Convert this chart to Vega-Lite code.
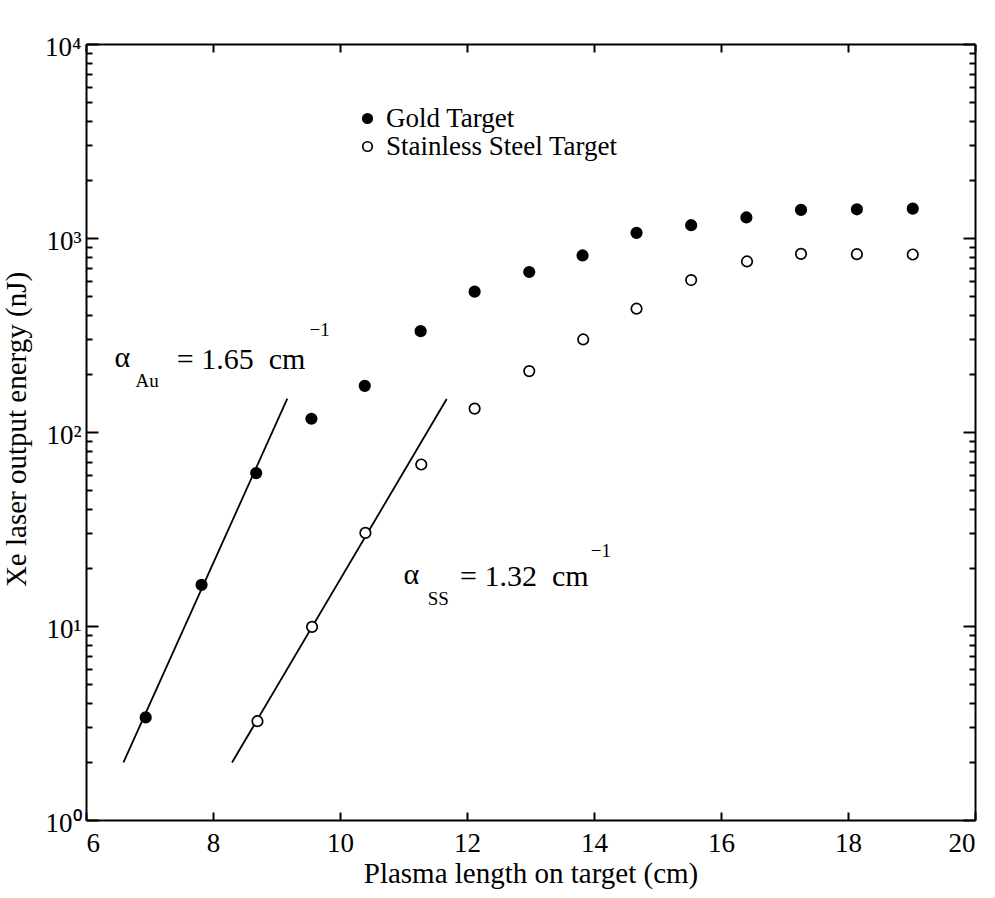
{
  "$schema": "https://vega.github.io/schema/vega-lite/v6.json",
  "width": 889,
  "height": 776,
  "autosize": {"type": "none"},
  "padding": {"left": 86, "top": 44, "right": 20, "bottom": 78},
  "background": "white",
  "datasets": {
    "pts": [
      {"series": "Gold Target", "length": 6.94, "energy": 3.38},
      {"series": "Gold Target", "length": 7.82, "energy": 16.3},
      {"series": "Gold Target", "length": 8.68, "energy": 61.4},
      {"series": "Gold Target", "length": 9.55, "energy": 117},
      {"series": "Gold Target", "length": 10.39, "energy": 173},
      {"series": "Gold Target", "length": 11.27, "energy": 331},
      {"series": "Gold Target", "length": 12.12, "energy": 529},
      {"series": "Gold Target", "length": 12.98, "energy": 668},
      {"series": "Gold Target", "length": 13.82, "energy": 813},
      {"series": "Gold Target", "length": 14.67, "energy": 1063},
      {"series": "Gold Target", "length": 15.53, "energy": 1164},
      {"series": "Gold Target", "length": 16.4, "energy": 1276},
      {"series": "Gold Target", "length": 17.26, "energy": 1396},
      {"series": "Gold Target", "length": 18.14, "energy": 1406},
      {"series": "Gold Target", "length": 19.02, "energy": 1418},
      {"series": "Stainless Steel Target", "length": 8.7, "energy": 3.23},
      {"series": "Stainless Steel Target", "length": 9.56, "energy": 9.9},
      {"series": "Stainless Steel Target", "length": 10.4, "energy": 30.2},
      {"series": "Stainless Steel Target", "length": 11.28, "energy": 68},
      {"series": "Stainless Steel Target", "length": 12.12, "energy": 132},
      {"series": "Stainless Steel Target", "length": 12.98, "energy": 206},
      {"series": "Stainless Steel Target", "length": 13.83, "energy": 300},
      {"series": "Stainless Steel Target", "length": 14.67, "energy": 432},
      {"series": "Stainless Steel Target", "length": 15.53, "energy": 607},
      {"series": "Stainless Steel Target", "length": 16.41, "energy": 757},
      {"series": "Stainless Steel Target", "length": 17.26, "energy": 828},
      {"series": "Stainless Steel Target", "length": 18.14, "energy": 825},
      {"series": "Stainless Steel Target", "length": 19.02, "energy": 822}
    ],
    "fits": [
      {"fit": "Au", "length": 6.59, "energy": 1.98},
      {"fit": "Au", "length": 9.17, "energy": 148.5},
      {"fit": "SS", "length": 8.3, "energy": 1.98},
      {"fit": "SS", "length": 11.68, "energy": 148}
    ],
    "bigText": [
      {"length": 6.45, "energy": 217, "label": "α"},
      {"length": 7.43, "energy": 211, "label": "= 1.65\u00a0\u00a0cm"},
      {"length": 11.0, "energy": 16.4, "label": "α"},
      {"length": 11.89, "energy": 16.1, "label": "= 1.32\u00a0\u00a0cm"}
    ],
    "smallText": [
      {"length": 6.78, "energy": 170, "label": "Au"},
      {"length": 9.52, "energy": 314, "label": "−1"},
      {"length": 11.38, "energy": 12.8, "label": "SS"},
      {"length": 13.95, "energy": 22.8, "label": "−1"}
    ]
  },
  "layer": [
    {
      "data": {"name": "fits"},
      "mark": {"type": "line", "color": "black", "strokeWidth": 1.8},
      "encoding": {
        "x": {
          "field": "length", "type": "quantitative",
          "scale": {"domain": [6, 20], "nice": false, "zero": false},
          "axis": {
            "orient": "bottom",
            "values": [6, 8, 10, 12, 14, 16, 18, 20],
            "tickSize": -8,
            "labelPadding": 18,
            "labelFont": "Liberation Serif",
            "labelFontSize": 27,
            "title": "Plasma length on target (cm)",
            "titleFont": "Liberation Serif",
            "titleFontSize": 29,
            "titleBaseline": "alphabetic",
            "titleY": 62
          }
        },
        "y": {
          "field": "energy", "type": "quantitative",
          "scale": {"type": "log", "domain": [1, 10000], "nice": false},
          "axis": {
            "orient": "left",
            "values": [1,2,3,4,5,6,7,8,9,10,20,30,40,50,60,70,80,90,100,200,300,400,500,600,700,800,900,1000,2000,3000,4000,5000,6000,7000,8000,9000,10000],
            "tickSize": {"condition": {"test": "indexof([1,10,100,1000,10000], datum.value) >= 0", "value": -12}, "value": -6},
            "labelExpr": "indexof([1,10,100,1000,10000], datum.value) >= 0 ? '10' + ['⁰','¹','²','³','⁴'][round(log(datum.value)/LN10)] : ''",
            "labelPadding": 17,
            "labelOffset": 3,
            "labelFont": "Liberation Serif",
            "labelFontSize": 27,
            "title": "Xe laser output energy (nJ)",
            "titleFont": "Liberation Serif",
            "titleFontSize": 29,
            "titleAngle": -90,
            "titleBaseline": "middle",
            "titleX": -70,
            "titleY": 385
          }
        },
        "detail": {"field": "fit"}
      }
    },
    {
      "data": {"name": "pts"},
      "mark": {"type": "point", "shape": "circle", "filled": true, "size": 110, "stroke": "black", "strokeWidth": 1.7, "opacity": 1},
      "encoding": {
        "x": {
          "field": "length", "type": "quantitative",
          "scale": {"domain": [6, 20], "nice": false, "zero": false},
          "axis": {"orient": "top", "values": [6, 8, 10, 12, 14, 16, 18, 20], "tickSize": -8, "labels": false, "title": null}
        },
        "y": {
          "field": "energy", "type": "quantitative",
          "scale": {"type": "log", "domain": [1, 10000], "nice": false},
          "axis": {
            "orient": "right",
            "values": [1,2,3,4,5,6,7,8,9,10,20,30,40,50,60,70,80,90,100,200,300,400,500,600,700,800,900,1000,2000,3000,4000,5000,6000,7000,8000,9000,10000],
            "tickSize": {"condition": {"test": "indexof([1,10,100,1000,10000], datum.value) >= 0", "value": -12}, "value": -6},
            "labels": false,
            "title": null
          }
        },
        "fill": {
          "field": "series", "type": "nominal",
          "scale": {"domain": ["Gold Target", "Stainless Steel Target"], "range": ["black", "white"]},
          "legend": {
            "title": null,
            "orient": "none",
            "legendX": 268,
            "legendY": 61,
            "labelFont": "Liberation Serif",
            "labelFontSize": 27,
            "labelColor": "black",
            "labelLimit": 500,
            "symbolType": "circle",
            "symbolSize": 90,
            "symbolStrokeColor": "black",
            "symbolStrokeWidth": 1.7,
            "symbolOpacity": 1,
            "rowPadding": 0,
            "labelOffset": 5,
            "padding": 0
          }
        }
      }
    },
    {
      "data": {"name": "bigText"},
      "mark": {"type": "text", "font": "Liberation Serif", "fontSize": 30, "align": "left", "baseline": "alphabetic", "color": "black"},
      "encoding": {
        "x": {"field": "length", "type": "quantitative", "axis": null},
        "y": {"field": "energy", "type": "quantitative", "axis": null},
        "text": {"field": "label"}
      }
    },
    {
      "data": {"name": "smallText"},
      "mark": {"type": "text", "font": "Liberation Serif", "fontSize": 19, "align": "left", "baseline": "alphabetic", "color": "black"},
      "encoding": {
        "x": {"field": "length", "type": "quantitative", "axis": null},
        "y": {"field": "energy", "type": "quantitative", "axis": null},
        "text": {"field": "label"}
      }
    }
  ],
  "resolve": {"axis": {"x": "independent", "y": "independent"}},
  "config": {
    "view": {"stroke": null},
    "font": "Liberation Serif",
    "axis": {
      "grid": false,
      "domainColor": "black",
      "domainWidth": 2,
      "tickColor": "black",
      "tickWidth": 2,
      "labelFont": "Liberation Serif",
      "labelFontSize": 27,
      "labelColor": "black",
      "titleFont": "Liberation Serif",
      "titleFontWeight": "normal",
      "titleColor": "black"
    }
  }
}
